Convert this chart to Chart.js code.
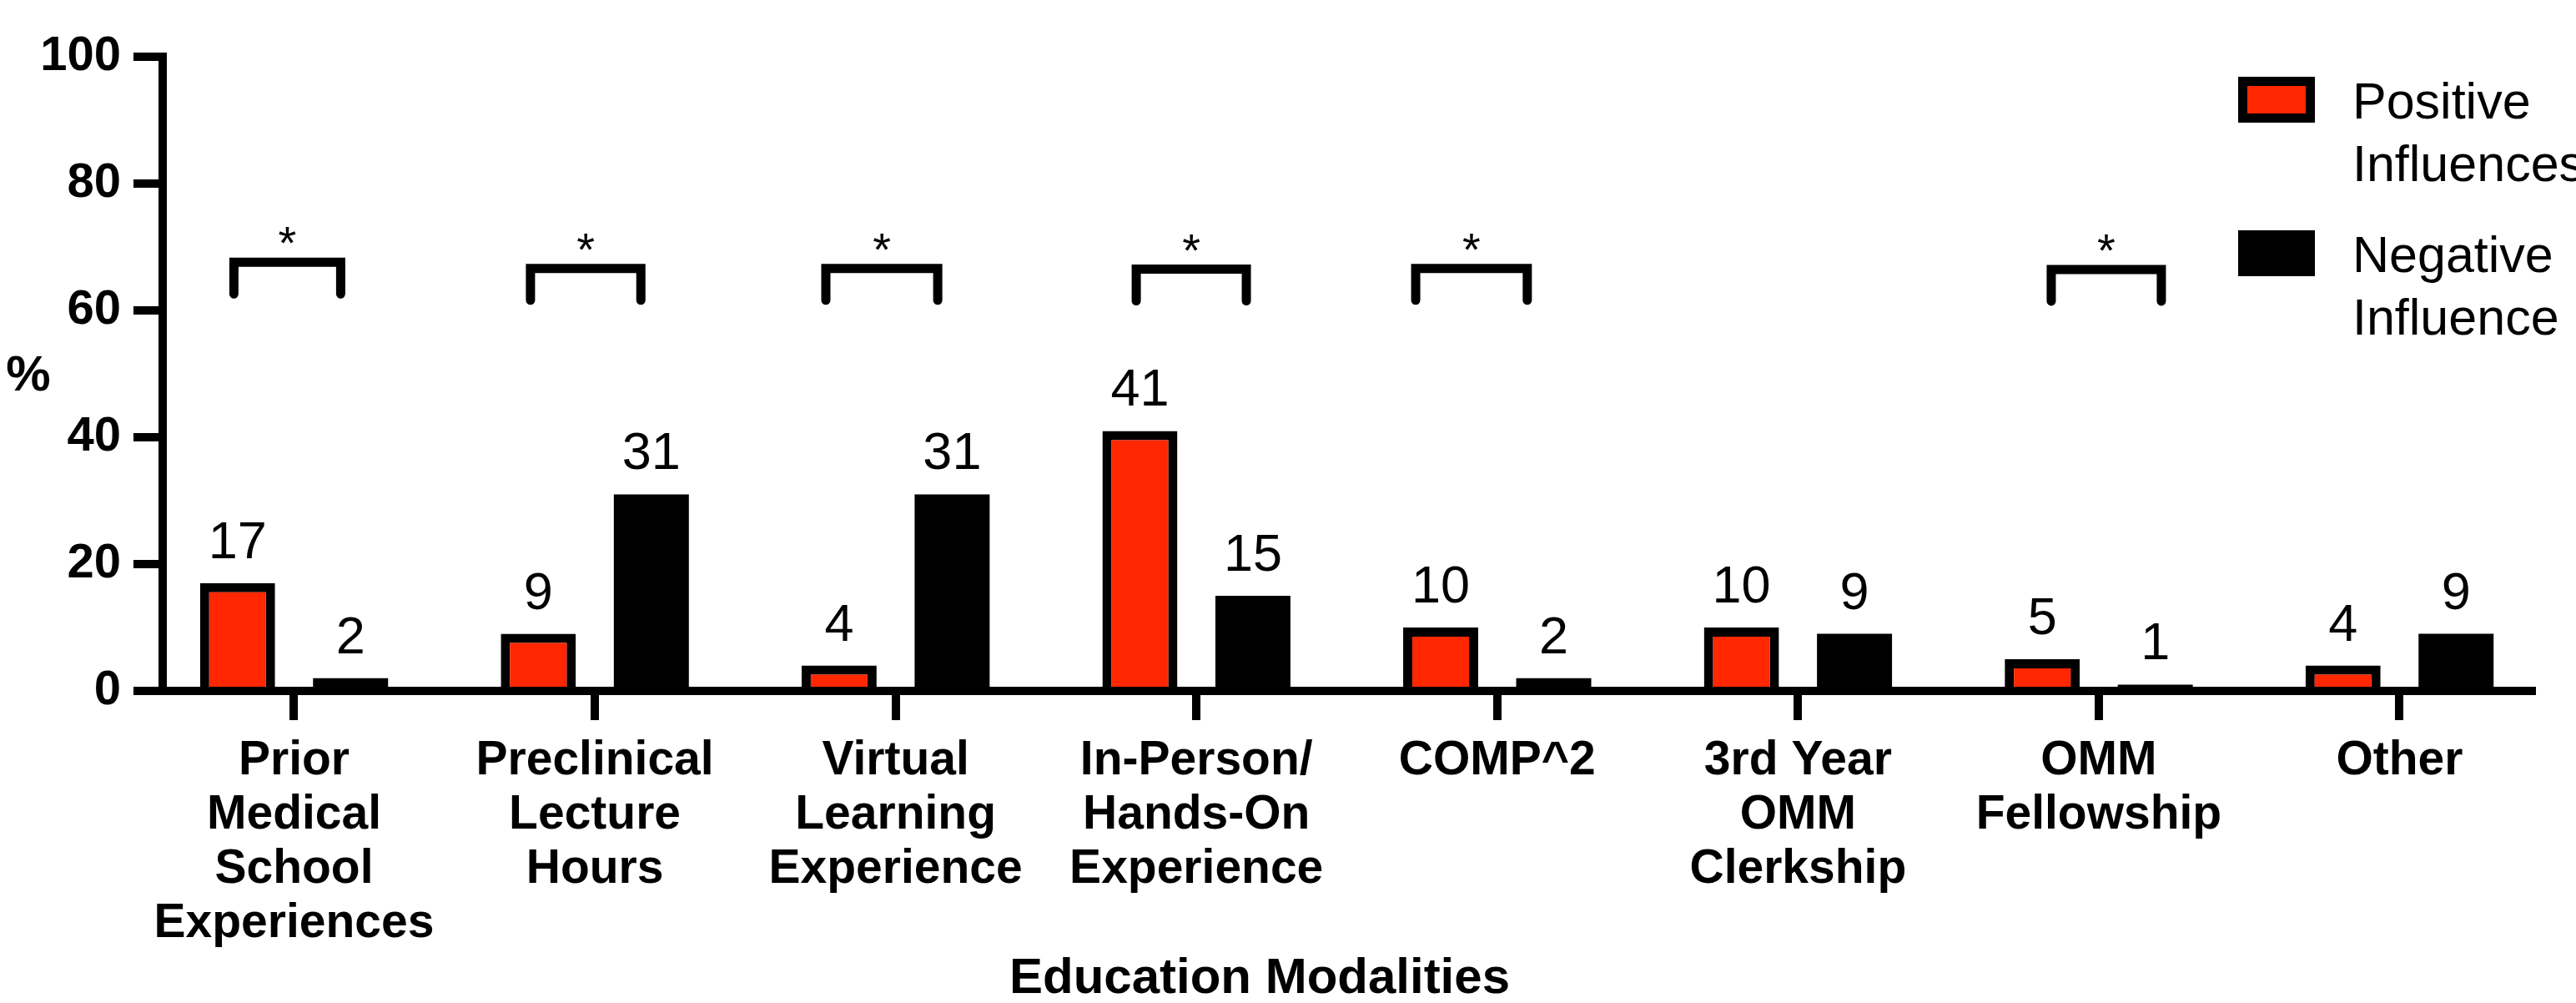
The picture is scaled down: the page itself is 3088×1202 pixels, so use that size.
<!DOCTYPE html>
<html>
<head>
<meta charset="utf-8">
<script src="https://cdn.jsdelivr.net/npm/chart.js@4/dist/chart.umd.min.js"></script>
<style>
  html, body { margin: 0; padding: 0; background: #fff; }
  #wrap { width: 3088px; height: 1202px; }
</style>
</head>
<body>
<div id="wrap"><canvas id="c" width="3088" height="1202"></canvas></div>
<script>
// ---- data ----
const categories = [
  ['Prior', 'Medical', 'School', 'Experiences'],
  ['Preclinical', 'Lecture', 'Hours'],
  ['Virtual', 'Learning', 'Experience'],
  ['In-Person/', 'Hands-On', 'Experience'],
  ['COMP^2'],
  ['3rd Year', 'OMM', 'Clerkship'],
  ['OMM', 'Fellowship'],
  ['Other']
];
const positiveInfluences = [17, 9, 4, 41, 10, 10, 5, 4];
const negativeInfluence = [2, 31, 31, 15, 2, 9, 1, 9];
const yTicks = [0, 20, 40, 60, 80, 100];
const seriesNames = [['Positive', 'Influences'], ['Negative', 'Influence']];
const yTitle = '%';
const xTitle = 'Education Modalities';

// significance brackets (*): category, bracket ends relative to the category centre, bracket height in %
const sigCategory = [0, 1, 2, 3, 4, 6];
const sigLeft = [-0.200, -0.214, -0.232, -0.200, -0.271, -0.158];
const sigRight = [0.155, 0.153, 0.140, 0.166, 0.100, 0.208];
const sigLevel = [67.6, 66.6, 66.6, 66.5, 66.6, 66.45];

// ---- styling ----
const FONT = "'Liberation Sans', Arial, Helvetica, sans-serif";
const RED = '#ff2600';
const BLACK = '#000000';
const AXIS_W = 10;
const TICK_LEN = 35;

const axisGrid = {
  display: true, drawOnChartArea: false, offset: false, drawTicks: true,
  tickLength: TICK_LEN, tickWidth: AXIS_W, tickColor: BLACK, lineWidth: AXIS_W, color: BLACK
};
const axisBorder = { display: true, color: BLACK, width: AXIS_W };

// value labels, significance brackets, legend and free-standing axis titles
const decorations = {
  id: 'decorations',
  afterDraw(chart) {
    const ctx = chart.ctx;
    const xs = chart.scales.x, ys = chart.scales.y;
    const area = chart.chartArea;
    ctx.save();
    ctx.fillStyle = BLACK;

    // square off the axis corners
    ctx.fillRect(area.left - AXIS_W / 2, area.top - AXIS_W / 2, AXIS_W, AXIS_W / 2);
    ctx.fillRect(area.left - AXIS_W / 2, area.bottom, AXIS_W, AXIS_W / 2);

    // values above bars
    const series = [positiveInfluences, negativeInfluence];
    ctx.font = `63px ${FONT}`;
    ctx.textAlign = 'center';
    ctx.textBaseline = 'alphabetic';
    series.forEach((vals, di) => {
      const meta = chart.getDatasetMeta(di);
      meta.data.forEach((bar, i) => {
        ctx.fillText(String(vals[i]), bar.x, bar.y - 30);
      });
    });

    // significance brackets
    ctx.strokeStyle = BLACK;
    ctx.lineWidth = 11;
    ctx.lineJoin = 'miter';
    ctx.lineCap = 'round';
    ctx.font = `56px ${FONT}`;
    sigCategory.forEach((c, k) => {
      const x1 = xs.getPixelForValue(c + sigLeft[k]);
      const x2 = xs.getPixelForValue(c + sigRight[k]);
      const yTop = ys.getPixelForValue(sigLevel[k]);
      const yLeg = ys.getPixelForValue(sigLevel[k] - 5);
      ctx.beginPath();
      ctx.moveTo(x1, yLeg);
      ctx.lineTo(x1, yTop);
      ctx.lineTo(x2, yTop);
      ctx.lineTo(x2, yLeg);
      ctx.stroke();
      ctx.fillText('*', (x1 + x2) / 2, yTop - 4);
    });

    // legend
    const boxX = 2683, boxW = 92, boxH = 55;
    const rowY = [92, 276];
    ctx.fillStyle = BLACK;
    ctx.fillRect(boxX, rowY[0], boxW, boxH);
    ctx.fillStyle = RED;
    ctx.fillRect(boxX + 11, rowY[0] + 11, boxW - 22, boxH - 22);
    ctx.fillStyle = BLACK;
    ctx.fillRect(boxX, rowY[1], boxW, boxH);
    ctx.font = `61px ${FONT}`;
    ctx.textAlign = 'left';
    ctx.textBaseline = 'alphabetic';
    seriesNames.forEach((lines, r) => {
      lines.forEach((t, j) => {
        ctx.fillText(t, 2820, rowY[r] + 50 + j * 75);
      });
    });

    // axis titles
    ctx.textAlign = 'center';
    ctx.textBaseline = 'middle';
    ctx.font = `bold 60px ${FONT}`;
    ctx.fillText(yTitle, 34, (area.top + area.bottom) / 2 + 3);
    ctx.font = `bold 60px ${FONT}`;
    ctx.fillText(xTitle, 1510, 1173);
    ctx.restore();
  }
};

new Chart(document.getElementById('c'), {
  type: 'bar',
  data: {
    datasets: [
      {
        label: seriesNames[0].join(' '),
        data: positiveInfluences.map((v, i) => ({ x: i, y: v })),
        backgroundColor: RED, borderColor: BLACK, borderWidth: 11, borderSkipped: 'start',
        categoryPercentage: 0.7515, barPercentage: 0.664
      },
      {
        label: seriesNames[1].join(' '),
        data: negativeInfluence.map((v, i) => ({ x: i, y: v })),
        backgroundColor: BLACK, borderWidth: 0,
        categoryPercentage: 0.7515, barPercentage: 0.664
      }
    ]
  },
  options: {
    responsive: false,
    animation: false,
    devicePixelRatio: 1,
    layout: { padding: { top: 68, right: 53, left: 0, bottom: 0 } },
    plugins: { legend: { display: false }, tooltip: { enabled: false }, title: { display: false } },
    scales: {
      x: {
        type: 'linear', min: -0.4368, max: 7.4396, offset: false,
        afterBuildTicks: s => { s.ticks = categories.map((_, i) => ({ value: i })); },
        afterFit: s => { s.height = 374; },
        grid: axisGrid,
        border: axisBorder,
        ticks: {
          autoSkip: false, maxRotation: 0, minRotation: 0, padding: 17, color: BLACK,
          font: { family: FONT, size: 57, weight: 'bold', lineHeight: 1.14 },
          callback: v => categories[v]
        }
      },
      y: {
        type: 'linear', min: 0, max: 100,
        afterBuildTicks: s => { s.ticks = yTicks.map(v => ({ value: v })); },
        afterFit: s => { s.width = 195; },
        grid: axisGrid,
        border: axisBorder,
        ticks: { padding: 15, color: BLACK, font: { family: FONT, size: 58, weight: 'bold' } }
      }
    }
  },
  plugins: [decorations]
});
</script>
</body>
</html>
